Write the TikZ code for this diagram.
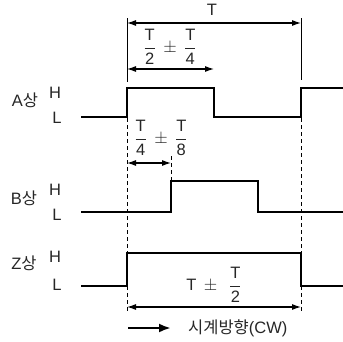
\documentclass[tikz,border=0pt]{standalone}
\usepackage{amsmath}
\usepackage{fontspec}
\setmainfont{Liberation Sans}
\newfontfamily\kofont{Noto Sans CJK KR}
\usetikzlibrary{arrows.meta}
\newcommand{\frc}[2]{$\dfrac{\textrm{#1}}{\textrm{#2}}$}

\begin{document}
\begin{tikzpicture}[x=1pt,y=-1pt,
  every node/.style={font=\fontsize{16.5}{19}\selectfont,inner sep=0pt,text=black!85},
  wave/.style={line width=1.8pt},
  guide/.style={line width=0.8pt},
  dguide/.style={line width=0.8pt,dash pattern=on 4pt off 3pt},
  dim/.style={{Latex[length=9pt,width=6pt]}-{Latex[length=9pt,width=6pt]},line width=1.1pt},
  fwd/.style={-{Latex[length=12pt,width=9pt]},line width=2.4pt}]
\useasboundingbox (0,0) rectangle (343,341);

% signal names and levels
\node (na) at (25,100) {A{\kofont 상}};
\node (ha) at (55,93) {H};
\node (la) at (57,118) {L};
\node (nb) at (24,198) {B{\kofont 상}};
\node (hb) at (55,190) {H};
\node (lb) at (57,215) {L};
\node (nz) at (24,263) {Z{\kofont 상}};
\node (hz) at (55,257) {H};
\node (lz) at (57,285) {L};

% waveforms
\draw[wave] (81,117) -- (127,117) -- (127,88) -- (214,88) -- (214,117) -- (301,117) -- (301,88) -- (343,88);
\draw[wave] (81,212) -- (171,212) -- (171,181) -- (258,181) -- (258,212) -- (343,212);
\draw[wave] (81,286) -- (127,286) -- (127,253) -- (301,253) -- (301,286) -- (343,286);

% guide lines
\coordinate (g1t) at (127,18);
\coordinate (g1b) at (127,82);
\coordinate (g2t) at (301,18);
\coordinate (g2b) at (301,80);
\draw[guide] (g1t) -- (g1b);
\draw[guide] (g2t) -- (g2b);
\coordinate (d1t) at (127,118);
\coordinate (d1b) at (127,312);
\coordinate (d2t) at (301,118);
\coordinate (d2b) at (301,312);
\coordinate (d3t) at (171,156);
\coordinate (d3b) at (171,181);
\draw[dguide] (d1t) -- (d1b);
\draw[dguide] (d2t) -- (d2b);
\draw[dguide] (d3t) -- (d3b);

% dimensions
\coordinate (p1) at (127,23);
\coordinate (p2) at (301,23);
\draw[dim] (p1) -- (p2);
\node (tt) at (212,10) {T};
\coordinate (q1) at (127,69);
\coordinate (q2) at (214,69);
\draw[dim] (q1) -- (q2);
\node (th) at (170,47) {\frc{T}{2}\,\ $\pm$\ \,\frc{T}{4}};
\coordinate (r1) at (127,163);
\coordinate (r2) at (171,163);
\draw[dim] (r1) -- (r2);
\node (tq) at (161,138) {\frc{T}{4}\,\ $\pm$\ \,\frc{T}{8}};
\coordinate (s1) at (127,307);
\coordinate (s2) at (301,307);
\draw[dim] (s1) -- (s2);
\node (tz) at (214,285) {T\,\ $\pm$\ \ \,\frc{T}{2}};

% rotation direction
\coordinate (c1) at (128,328);
\coordinate (c2) at (171,328);
\draw[fwd] (c1) -- (c2);
\node[anchor=west] (cw) at (188,328) {{\kofont 시계방향}(CW)};
\end{tikzpicture}
\end{document}
